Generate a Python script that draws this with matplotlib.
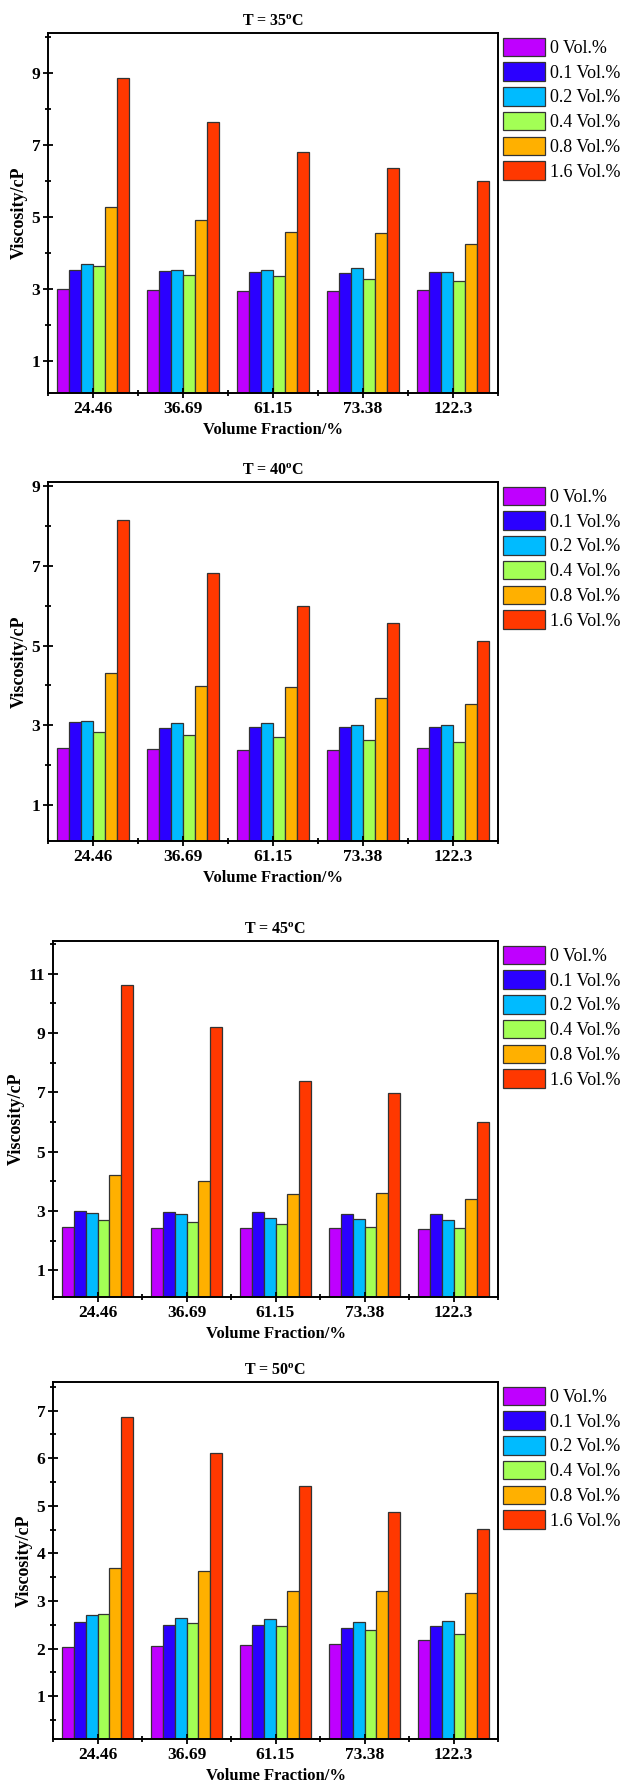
import matplotlib
matplotlib.use('Agg')
import matplotlib.pyplot as plt
from matplotlib.ticker import MultipleLocator, FixedLocator
import numpy as np

# Data
categories = ['24.46', '36.69', '61.15', '73.38', '122.3']
series_labels = ['0 Vol.%', '0.1 Vol.%', '0.2 Vol.%', '0.4 Vol.%', '0.8 Vol.%', '1.6 Vol.%']
temps = [35, 40, 45, 50]

visc_35 = [
    [2.99, 2.95, 2.92, 2.93, 2.95],
    [3.51, 3.48, 3.47, 3.44, 3.47],
    [3.68, 3.51, 3.53, 3.57, 3.47],
    [3.64, 3.39, 3.34, 3.28, 3.20],
    [5.28, 4.90, 4.56, 4.55, 4.23],
    [8.85, 7.64, 6.80, 6.36, 6.00],
]
visc_40 = [
    [2.42, 2.41, 2.38, 2.37, 2.43],
    [3.08, 2.94, 2.97, 2.97, 2.97],
    [3.11, 3.07, 3.05, 3.02, 3.00],
    [2.84, 2.75, 2.70, 2.62, 2.59],
    [4.31, 3.99, 3.95, 3.69, 3.54],
    [8.14, 6.81, 5.98, 5.57, 5.11],
]
visc_45 = [
    [2.47, 2.44, 2.44, 2.42, 2.40],
    [3.00, 2.98, 2.97, 2.89, 2.89],
    [2.93, 2.89, 2.76, 2.74, 2.71],
    [2.69, 2.62, 2.55, 2.46, 2.42],
    [4.21, 4.02, 3.56, 3.60, 3.40],
    [10.61, 9.19, 7.39, 6.99, 6.01],
]
visc_50 = [
    [2.04, 2.06, 2.08, 2.09, 2.19],
    [2.56, 2.50, 2.50, 2.44, 2.47],
    [2.70, 2.64, 2.62, 2.55, 2.57],
    [2.73, 2.53, 2.48, 2.40, 2.30],
    [3.69, 3.62, 3.20, 3.20, 3.16],
    [6.87, 6.10, 5.42, 4.87, 4.51],
]

colors = ['#BF00FF', '#2B00FF', '#00BBFF', '#A3FF55', '#FFB000', '#FF3800']

plt.rcParams['font.family'] = ['Liberation Serif', 'DejaVu Serif']
plt.rcParams['mathtext.fontset'] = 'custom'
plt.rcParams['mathtext.rm'] = 'Liberation Serif'
plt.rcParams['mathtext.bf'] = 'Liberation Serif:bold'

W, H = 624, 1782
fig = plt.figure(figsize=(W / 100, H / 100), dpi=100)

# panel boxes in pixels: left, right, top, bottom
boxes = [(48, 498, 33, 393), (48, 498, 482, 841),
         (53, 498, 941, 1297), (53, 498, 1382, 1739)]
ylims = [(0.1, 10.1), (0.1, 9.1), (0.1, 12.1), (0.1, 7.6)]
majors = [[1, 3, 5, 7, 9], [1, 3, 5, 7, 9], [1, 3, 5, 7, 9, 11], [1, 2, 3, 4, 5, 6, 7]]
minor_step = [1, 1, 1, 0.5]
all_data = [visc_35, visc_40, visc_45, visc_50]

x = np.arange(len(categories))
n = len(series_labels)
bw = 0.8 / n

for k in range(4):
    l, r, t, b = boxes[k]
    ax = fig.add_axes([l / W, 1 - b / H, (r - l) / W, (b - t) / H])
    data = all_data[k]
    for i in range(n):
        ax.bar(x - 0.4 + bw * (i + 0.5), data[i], width=bw, color=colors[i],
               edgecolor='#333333', linewidth=0.9, label=series_labels[i])
    ax.set_xlim(-0.5, len(categories) - 0.5)
    ax.set_ylim(*ylims[k])
    ax.set_xticks(x)
    ax.set_xticklabels(categories)
    ax.xaxis.set_minor_locator(FixedLocator(np.arange(-0.5, len(categories), 1.0)))
    ax.yaxis.set_major_locator(FixedLocator(majors[k]))
    ax.yaxis.set_minor_locator(MultipleLocator(minor_step[k]))
    ax.tick_params(axis='both', which='major', direction='inout', length=7,
                   width=1.3, labelsize=12.5, pad=2)
    ax.tick_params(axis='both', which='minor', direction='inout', length=4.5, width=1.3)
    for lab in ax.get_xticklabels() + ax.get_yticklabels():
        lab.set_fontweight('bold')
    for sp in ax.spines.values():
        sp.set_linewidth(1.4)
    ax.set_title(r'T = %d$^{\mathbf{o}}$C' % temps[k], fontsize=11.5,
                 fontweight='bold', pad=5)
    ax.set_xlabel('Volume Fraction/%', fontsize=12, fontweight='bold', labelpad=4)
    ax.set_ylabel('Viscosity/cP', fontsize=13, fontweight='bold', labelpad=3)
    ax.legend(loc='upper left', bbox_to_anchor=(1.0, 1.0), frameon=False,
              fontsize=13, handlelength=2.33, handleheight=1.2,
              handletextpad=0.3, labelspacing=0.3, borderaxespad=0.15,
              borderpad=0.1)

fig.savefig('out.png', dpi=100)
